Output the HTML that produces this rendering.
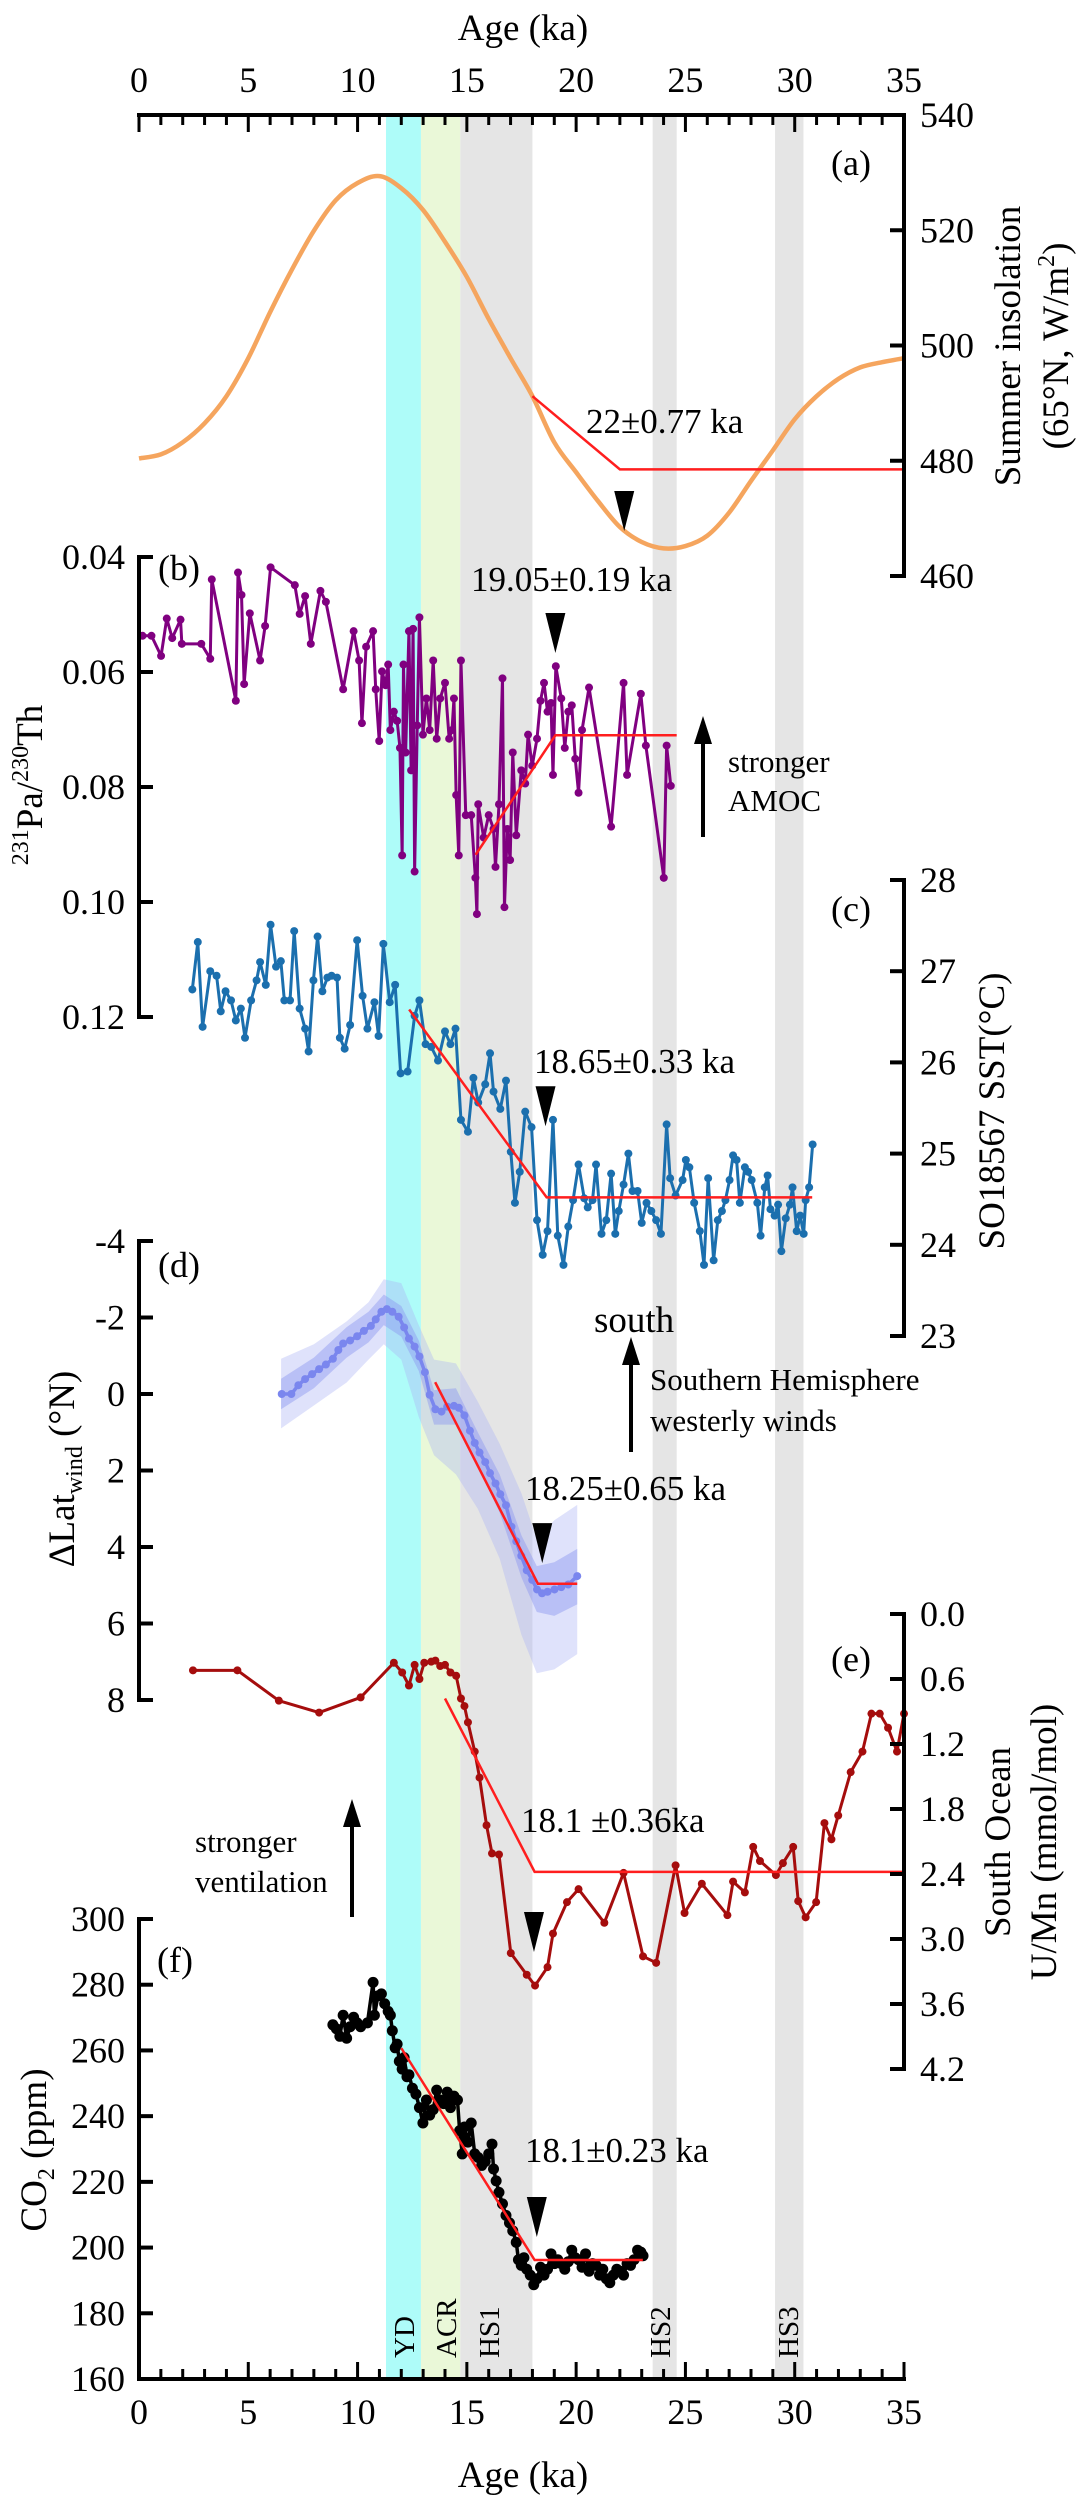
<!DOCTYPE html>
<html><head><meta charset="utf-8"><style>
html,body{margin:0;padding:0;background:#fff}
svg{display:block;font-family:"Liberation Serif",serif}
</style></head><body>
<svg id="chart" xmlns="http://www.w3.org/2000/svg" width="1081" height="2500" viewBox="0 0 1081 2500">
<g id="bands"></g>
<g id="dbands"></g>
<g id="series"></g>
<g id="axes"></g>
<g id="labels" fill="#000">
<text x="523" y="40" font-size="37" text-anchor="middle">Age (ka)</text>
<text x="523" y="2487" font-size="37" text-anchor="middle">Age (ka)</text>
<text x="851" y="175" font-size="36" text-anchor="middle">(a)</text>
<text x="179" y="580" font-size="36" text-anchor="middle">(b)</text>
<text x="851" y="921" font-size="36" text-anchor="middle">(c)</text>
<text x="179" y="1277" font-size="36" text-anchor="middle">(d)</text>
<text x="851" y="1671" font-size="36" text-anchor="middle">(e)</text>
<text x="175" y="1972" font-size="36" text-anchor="middle">(f)</text>
<text font-size="37" text-anchor="middle" transform="translate(1020,346) rotate(-90)">Summer insolation</text>
<text font-size="37" text-anchor="middle" transform="translate(1068,346) rotate(-90)">(65°N, W/m<tspan font-size="24" dy="-14">2</tspan><tspan dy="14">)</tspan></text>
<text font-size="37" text-anchor="middle" transform="translate(42,785) rotate(-90)"><tspan font-size="24" dy="-14">231</tspan><tspan dy="14">Pa/</tspan><tspan font-size="24" dy="-14">230</tspan><tspan dy="14">Th</tspan></text>
<text font-size="37" text-anchor="middle" transform="translate(1004,1111) rotate(-90)">SO18567 SST(°C)</text>
<text font-size="37" text-anchor="middle" transform="translate(74,1469) rotate(-90)">ΔLat<tspan font-size="24" dy="8">wind</tspan><tspan dy="-8"> (°N)</tspan></text>
<text font-size="37" text-anchor="middle" transform="translate(1010,1842) rotate(-90)">South Ocean</text>
<text font-size="37" text-anchor="middle" transform="translate(1056,1842) rotate(-90)">U/Mn (mmol/mol)</text>
<text font-size="37" text-anchor="middle" transform="translate(46,2150) rotate(-90)">CO<tspan font-size="24" dy="8">2</tspan><tspan dy="-8"> (ppm)</tspan></text>
<text x="586" y="433" font-size="35">22±0.77 ka</text>
<text x="471" y="591" font-size="35">19.05±0.19 ka</text>
<text x="534" y="1073" font-size="35">18.65±0.33 ka</text>
<text x="525" y="1500" font-size="35">18.25±0.65 ka</text>
<text x="521" y="1832" font-size="35">18.1 ±0.36ka</text>
<text x="525" y="2162" font-size="35">18.1±0.23 ka</text>
<text x="728" y="772" font-size="31">stronger</text>
<text x="728" y="811" font-size="31">AMOC</text>
<text x="594" y="1332" font-size="37">south</text>
<text x="650" y="1390" font-size="31">Southern Hemisphere</text>
<text x="650" y="1431" font-size="31">westerly winds</text>
<text x="195" y="1852" font-size="31">stronger</text>
<text x="195" y="1892" font-size="31">ventilation</text>
<text font-size="29" transform="translate(414,2358) rotate(-90)">YD</text>
<text font-size="29" transform="translate(456,2358) rotate(-90)">ACR</text>
<text font-size="29" transform="translate(499,2358) rotate(-90)">HS1</text>
<text font-size="29" transform="translate(670,2358) rotate(-90)">HS2</text>
<text font-size="29" transform="translate(798,2358) rotate(-90)">HS3</text>
</g>
<g id="arrows">
<line x1="703" y1="837" x2="703" y2="740" stroke="#000" stroke-width="4"/>
<polygon points="703,716 694,744 712,744" fill="#000"/>
<line x1="631" y1="1452" x2="631" y2="1360" stroke="#000" stroke-width="4"/>
<polygon points="631,1337 622,1365 640,1365" fill="#000"/>
<line x1="352" y1="1917" x2="352" y2="1822" stroke="#000" stroke-width="4"/>
<polygon points="352,1799 343,1827 361,1827" fill="#000"/>
</g>
</svg>
<script>
// ---------- data ----------
const bandStarts = [11.3, 12.9, 14.7, 23.5, 29.1];
const bandEnds   = [12.9, 14.7, 18.0, 24.6, 30.4];
const bandNames  = ['yd', 'acr', 'hs1', 'hs2', 'hs3'];
const bandColors = ['#aefcf9', '#eaf8d8', '#e5e5e5', '#e5e5e5', '#e5e5e5'];

const xTicks = [0, 5, 10, 15, 20, 25, 30, 35];

const insAges = [0,1,2,3,4,5,6,7,8,9,10,11,12,13,14,15,16,17,18,19,20,21,22,23,24,25,26,27,28,29,30,31,32,33,34,35];
const insVals = [480.4,481.1,483.2,486.5,491.2,497.8,505.8,513.2,519.9,525.2,528.2,529.4,527.3,523.5,518,511.9,504.6,497.8,491.2,483.2,478,473,468.5,465.9,464.8,465.2,467,471,476.5,481.8,487.2,491.2,494.2,496.2,497.1,497.8];
const insTicks = [540, 520, 500, 480, 460];

const paAges = [0.16,0.57,1.01,1.27,1.52,1.90,1.96,2.85,3.26,3.33,4.43,4.53,4.69,4.81,5.07,5.54,5.77,6.02,7.13,7.35,7.60,7.86,8.30,8.55,9.34,9.82,10.07,10.20,10.39,10.71,10.83,10.99,11.12,11.28,11.40,11.50,11.66,11.81,11.94,12.04,12.10,12.20,12.35,12.45,12.54,12.61,12.73,12.83,12.99,13.15,13.30,13.46,13.62,13.78,14.00,14.19,14.32,14.41,14.51,14.63,14.73,14.95,15.20,15.39,15.46,15.52,15.77,16.00,16.22,16.31,16.47,16.63,16.72,16.85,16.98,17.10,17.26,17.49,17.67,17.80,17.99,18.21,18.37,18.53,18.69,18.85,18.94,19.07,19.32,19.48,19.64,19.80,19.96,20.11,20.27,20.59,21.60,22.17,22.33,22.96,23.19,24.01,24.14,24.33];
const paVals = [0.0537,0.0537,0.0572,0.0507,0.0541,0.0509,0.0551,0.0551,0.0577,0.0439,0.0650,0.0427,0.0466,0.0621,0.0498,0.0580,0.0520,0.0418,0.0449,0.0499,0.0468,0.0551,0.0459,0.0478,0.0630,0.0529,0.0580,0.0689,0.0556,0.0529,0.0630,0.0720,0.0599,0.0623,0.0587,0.0701,0.0669,0.0685,0.0732,0.0919,0.0587,0.0740,0.0529,0.0771,0.0525,0.0947,0.0693,0.0505,0.0709,0.0646,0.0701,0.0580,0.0716,0.0646,0.0619,0.0716,0.0701,0.0646,0.0814,0.0919,0.0580,0.0849,0.0849,0.0958,0.1021,0.0830,0.0888,0.0849,0.0873,0.0939,0.0830,0.0611,0.1009,0.0873,0.0927,0.0740,0.0884,0.0771,0.0794,0.0709,0.0763,0.0716,0.0650,0.0619,0.0669,0.0654,0.0779,0.0590,0.0646,0.0732,0.0669,0.0658,0.0751,0.0810,0.0701,0.0627,0.0869,0.0619,0.0779,0.0638,0.0728,0.0958,0.0728,0.0798];
const paTicks = [0.04, 0.06, 0.08, 0.10, 0.12];
const paTickLabels = ['0.04', '0.06', '0.08', '0.10', '0.12'];

const sstAges = [2.44,2.69,2.91,3.26,3.55,3.74,3.96,4.21,4.43,4.66,4.85,5.13,5.38,5.54,5.80,6.02,6.27,6.49,6.65,6.91,7.10,7.35,7.60,7.76,7.98,8.17,8.39,8.62,8.81,9.06,9.19,9.41,9.66,9.98,10.23,10.45,10.77,10.96,11.18,11.47,11.72,11.97,12.29,12.61,12.83,13.11,13.37,13.68,14.00,14.25,14.48,14.73,15.05,15.30,15.52,15.84,16.06,16.22,16.53,16.79,17.01,17.20,17.42,17.67,17.96,18.21,18.47,18.69,18.94,19.16,19.42,19.64,19.86,20.11,20.37,20.53,20.75,20.91,21.16,21.38,21.60,21.79,21.95,22.17,22.39,22.58,22.81,23.00,23.22,23.44,23.66,23.88,24.14,24.30,24.55,24.87,25.02,25.18,25.40,25.66,25.85,26.04,26.29,26.48,26.67,26.83,27.02,27.18,27.34,27.49,27.72,27.87,28.03,28.29,28.44,28.63,28.76,28.89,29.08,29.24,29.39,29.59,29.78,29.90,30.09,30.25,30.41,30.50,30.66,30.82];
const sstVals = [26.80,27.32,26.39,27.00,26.95,26.56,26.78,26.68,26.46,26.59,26.27,26.68,26.90,27.10,26.85,27.51,27.05,27.11,26.68,26.68,27.44,26.59,26.37,26.12,26.90,27.38,26.78,26.93,26.95,26.93,26.27,26.15,26.41,27.34,26.73,26.37,26.66,26.29,27.30,26.66,26.85,25.88,25.90,26.51,26.68,26.20,26.17,26.02,26.34,26.20,26.37,25.37,25.24,25.83,25.56,25.76,26.10,25.68,25.49,25.80,25.02,24.46,24.80,25.46,25.29,24.27,23.89,24.15,25.37,24.10,23.78,24.20,24.49,24.88,24.51,24.41,24.49,24.88,24.12,24.27,24.78,24.12,24.37,24.66,25.00,24.59,24.59,24.24,24.46,24.37,24.27,24.12,25.32,24.73,24.54,24.71,24.93,24.85,24.46,24.15,23.78,24.73,23.83,24.27,24.37,24.49,24.71,24.98,24.93,24.46,24.85,24.80,24.71,24.46,24.10,24.63,24.76,24.39,24.32,24.44,23.93,24.29,24.44,24.63,24.15,24.32,24.12,24.49,24.63,25.10];
const sstTicks = [28, 27, 26, 25, 24, 23];

const windAges = [6.53,6.97,7.29,7.60,7.92,8.24,8.55,8.87,9.12,9.34,9.66,9.98,10.29,10.61,10.83,11.09,11.34,11.59,11.88,12.13,12.35,12.61,12.83,13.08,13.30,13.56,13.84,14.10,14.41,14.63,14.89,15.14,15.36,15.58,15.84,16.06,16.31,16.53,16.79,17.04,17.26,17.49,17.74,17.99,18.21,18.44,18.69,19.01,19.32,19.64,20.05];
const windVals = [0.0,0.0,-0.23,-0.39,-0.52,-0.65,-0.77,-0.92,-1.15,-1.32,-1.40,-1.51,-1.65,-1.78,-1.95,-2.15,-2.22,-2.15,-2.02,-1.74,-1.45,-1.24,-0.98,-0.57,0.02,0.40,0.46,0.33,0.31,0.36,0.56,0.96,1.28,1.53,1.78,2.07,2.34,2.62,2.91,3.47,3.85,4.23,4.61,4.86,5.11,5.21,5.17,5.11,5.05,4.98,4.76];
const windBandAges = [6.5,8,9.5,10.5,11.2,12,12.8,13.5,14.5,15.5,16.5,17.5,18.2,19,20.05];
const windOuterUpper = [-0.92,-1.3,-1.9,-2.4,-3.0,-2.9,-1.8,-0.9,-0.8,0.2,1.3,2.6,3.8,3.3,2.9];
const windOuterLower = [0.9,0.3,-0.3,-0.9,-1.3,-0.9,0.6,1.6,2.1,3.0,4.3,6.3,7.3,7.2,6.8];
const windInnerUpper = [-0.4,-0.95,-1.75,-2.15,-2.6,-2.3,-1.4,-0.1,-0.15,1.0,2.1,3.7,4.5,4.4,4.05];
const windInnerLower = [0.4,-0.15,-0.95,-1.35,-1.8,-1.5,-0.6,0.8,0.8,1.9,3.1,4.8,5.7,5.8,5.5];
const windTicks = [-4, -2, 0, 2, 4, 6, 8];

const umnAges = [2.47,4.50,6.40,8.24,10.14,11.66,12.04,12.35,12.61,12.83,13.05,13.37,13.56,13.78,14.00,14.25,14.51,14.73,14.89,15.05,15.36,15.58,15.90,16.15,16.47,17.01,17.74,18.12,18.69,18.94,19.58,20.11,21.29,22.17,23.06,23.66,24.55,24.96,25.75,26.92,27.18,27.72,28.10,28.41,29.14,29.46,29.93,30.16,30.50,30.98,31.36,31.68,31.99,32.56,33.10,33.51,33.89,34.27,34.68,35.00];
const umnVals = [0.52,0.52,0.80,0.91,0.77,0.45,0.54,0.66,0.47,0.60,0.45,0.44,0.43,0.48,0.47,0.54,0.57,0.78,0.85,1.00,1.27,1.51,1.95,2.21,2.22,3.13,3.33,3.43,3.26,2.95,2.66,2.54,2.85,2.39,3.16,3.22,2.32,2.76,2.49,2.78,2.47,2.57,2.15,2.28,2.41,2.30,2.15,2.65,2.80,2.66,1.93,2.08,1.86,1.46,1.27,0.92,0.92,1.05,1.27,0.92];
const umnTicks = [0.0, 0.6, 1.2, 1.8, 2.4, 3.0, 3.6, 4.2];
const umnTickLabels = ['0.0','0.6','1.2','1.8','2.4','3.0','3.6','4.2'];

const co2Ages = [8.87,9.03,9.19,9.34,9.50,9.66,9.82,9.98,10.14,10.45,10.71,10.77,10.93,11.09,11.24,11.40,11.50,11.59,11.72,11.81,11.91,12.04,12.13,12.26,12.35,12.51,12.67,12.83,12.99,13.15,13.30,13.46,13.62,13.78,13.94,14.10,14.25,14.41,14.57,14.67,14.79,14.89,15.05,15.20,15.36,15.52,15.68,15.84,16.00,16.15,16.22,16.34,16.47,16.63,16.79,16.95,17.10,17.26,17.36,17.49,17.61,17.74,17.90,18.06,18.21,18.37,18.53,18.69,18.85,19.01,19.16,19.32,19.48,19.64,19.80,19.96,20.11,20.27,20.43,20.59,20.75,20.91,21.07,21.22,21.38,21.54,21.70,21.86,22.02,22.17,22.33,22.49,22.65,22.81,22.96,23.06];
const co2Vals = [267.8,266.6,264.3,270.7,263.7,267.2,270.1,268.4,267.2,268.4,280.7,270.7,276.6,277.2,274.2,271.9,270.7,266.0,260.8,261.9,256.7,254.3,257.8,252.0,252.6,248.5,246.7,242.6,237.9,244.9,240.3,242.0,247.9,244.9,243.8,247.3,242.6,246.1,244.9,235.6,228.5,236.7,232.1,237.9,228.5,227.4,225.0,226.2,228.5,231.5,223.9,220.3,216.8,213.3,209.8,207.5,205.1,201.6,196.3,194.6,196.9,193.4,191.6,188.7,190.5,194.0,191.6,193.4,198.1,195.1,196.3,195.1,193.4,195.7,199.2,196.9,196.3,194.0,198.1,192.8,195.1,194.6,191.6,193.4,190.5,189.3,191.6,193.4,192.8,191.6,195.1,194.6,196.3,199.2,198.6,197.5];
const co2Ticks = [300, 280, 260, 240, 220, 200, 180, 160];

const fitAAges = [18.0, 22.0, 35.0];   const fitAVals = [491.2, 478.5, 478.5];
const fitBAges = [15.4, 19.05, 24.6];  const fitBVals = [0.0918, 0.0710, 0.0710];
const fitCAges = [12.36, 18.65, 30.8]; const fitCVals = [26.58, 24.52, 24.52];
const fitDAges = [13.55, 18.25, 20.05];const fitDVals = [-0.31, 4.96, 4.96];
const fitEAges = [14.0, 18.1, 35.0];   const fitEVals = [0.78, 2.38, 2.38];
const fitFAges = [12.0, 18.1, 23.05];  const fitFVals = [260.7, 196.2, 196.2];

const markerAges = [22.2, 19.05, 18.6, 18.45, 18.07, 18.2];
const markerTipVals = [467.8, 0.0567, 25.3, 4.42, 3.12, 203.2];

// ---------- scales ----------
const X  = a => 139 + a * 765 / 35;
const Ya = v => 115 + (540 - v) * 461 / 80;
const Yb = v => 557 + (v - 0.04) * 460 / 0.08;
const Yc = v => 880 + (28 - v) * 456 / 5;
const Yd = v => 1241 + (v + 4) * 459 / 12;
const Ye = v => 1614 + v * 455 / 4.2;
const Yf = v => 2379 - (v - 160) * 460 / 140;

const NS = 'http://www.w3.org/2000/svg';
function mk(tag, parent) { const e = document.createElementNS(NS, tag); parent.appendChild(e); return e; }
const gB = document.getElementById('bands'), gD = document.getElementById('dbands'),
      gS = document.getElementById('series'), gA = document.getElementById('axes');

// bands
for (let i = 0; i < bandStarts.length; i++) {
  const r = mk('rect', gB);
  
  
  r.setAttribute('x', X(bandStarts[i])); r.setAttribute('width', X(bandEnds[i]) - X(bandStarts[i]));
  r.setAttribute('y', 117); r.setAttribute('height', 2379 - 117);
  r.setAttribute('fill', bandColors[i]);
}

// wind confidence bands
function bandPath(up, lo, fill, name) {
  let d = windBandAges.map((a, i) => (i ? 'L' : 'M') + X(a) + ',' + Yd(up[i])).join('');
  for (let i = windBandAges.length - 1; i >= 0; i--) d += 'L' + X(windBandAges[i]) + ',' + Yd(lo[i]);
  const p = mk('path', gD);
  
  
  p.setAttribute('d', d + 'Z'); p.setAttribute('fill', fill);
}
bandPath(windOuterUpper, windOuterLower, 'rgba(170,178,245,0.38)', 'wind-outer-band');
bandPath(windInnerUpper, windInnerLower, 'rgba(140,150,240,0.45)', 'wind-inner-band');

// smooth insolation curve (Catmull-Rom)
(function () {
  const pts = insAges.map((a, i) => [X(a), Ya(insVals[i])]);
  let d = 'M' + pts[0][0] + ',' + pts[0][1];
  for (let i = 0; i < pts.length - 1; i++) {
    const p0 = pts[Math.max(0, i - 1)], p1 = pts[i], p2 = pts[i + 1], p3 = pts[Math.min(pts.length - 1, i + 2)];
    const c1 = [p1[0] + (p2[0] - p0[0]) / 6, p1[1] + (p2[1] - p0[1]) / 6];
    const c2 = [p2[0] - (p3[0] - p1[0]) / 6, p2[1] - (p3[1] - p1[1]) / 6];
    d += `C${c1[0]},${c1[1]} ${c2[0]},${c2[1]} ${p2[0]},${p2[1]}`;
  }
  const p = mk('path', gS);
  
  
  p.setAttribute('d', d); p.setAttribute('fill', 'none');
  p.setAttribute('stroke', '#f5a55e'); p.setAttribute('stroke-width', 4.5);
})();

function series(ages, vals, Y, color, r, name, lw) {
  const g = mk('g', gS);
  
  
  const p = mk('polyline', g);
  
  
  p.setAttribute('points', ages.map((a, i) => X(a) + ',' + Y(vals[i])).join(' '));
  p.setAttribute('fill', 'none'); p.setAttribute('stroke', color); p.setAttribute('stroke-width', lw);
  p.setAttribute('stroke-linejoin', 'round');
  ages.forEach((a, i) => {
    const c = mk('circle', g);
    
    
    c.setAttribute('cx', X(a)); c.setAttribute('cy', Y(vals[i])); c.setAttribute('r', r); c.setAttribute('fill', color);
  });
}
series(paAges, paVals, Yb, '#800080', 4, 'pa-th-series', 3);
series(sstAges, sstVals, Yc, '#1b6fae', 4, 'sst-series', 3);
series(windAges, windVals, Yd, '#7a86ee', 4, 'wind-series', 3.5);
series(umnAges, umnVals, Ye, '#a50d0d', 4, 'umn-series', 3);
series(co2Ages, co2Vals, Yf, '#000000', 5.5, 'co2-series', 3.5);

function fit(ages, vals, Y, name) {
  const p = mk('polyline', gS);
  
  
  p.setAttribute('points', ages.map((a, i) => X(a) + ',' + Y(vals[i])).join(' '));
  p.setAttribute('fill', 'none'); p.setAttribute('stroke', '#ff1e1e'); p.setAttribute('stroke-width', 2.5);
}
fit(fitAAges, fitAVals, Ya, 'fit-line-a');
fit(fitBAges, fitBVals, Yb, 'fit-line-b');
fit(fitCAges, fitCVals, Yc, 'fit-line-c');
fit(fitDAges, fitDVals, Yd, 'fit-line-d');
fit(fitEAges, fitEVals, Ye, 'fit-line-e');
fit(fitFAges, fitFVals, Yf, 'fit-line-f');

const markerY = [Ya, Yb, Yc, Yd, Ye, Yf];
markerAges.forEach((a, i) => {
  const x = X(a), y = markerY[i](markerTipVals[i]);
  const t = mk('polygon', gS);
  
  
  t.setAttribute('points', `${x},${y} ${x - 10},${y - 40} ${x + 10},${y - 40}`);
  t.setAttribute('fill', '#000');
});

// ---------- axes ----------
function line(x1, y1, x2, y2, w, name) {
  const l = mk('line', gA);
  
  
  l.setAttribute('x1', x1); l.setAttribute('y1', y1); l.setAttribute('x2', x2); l.setAttribute('y2', y2);
  l.setAttribute('stroke', '#000'); l.setAttribute('stroke-width', w);
}
function label(x, y, s, anchor, name) {
  const t = mk('text', gA);
  
  
  t.setAttribute('x', x); t.setAttribute('y', y); t.setAttribute('text-anchor', anchor);
  t.setAttribute('font-size', 36); t.textContent = s;
}
line(137, 115, 906, 115, 4, 'top-x-axis-line');
line(137, 2379, 906, 2379, 4, 'bottom-x-axis-line');
for (let a = 0; a <= 35; a++) {
  const len = a % 5 === 0 ? 17 : 10;
  line(X(a), 115, X(a), 115 + len, 3, 'top-x-tick');
  line(X(a), 2379, X(a), 2379 - len, 3, 'bottom-x-tick');
}
xTicks.forEach(a => {
  label(X(a), 92, String(a), 'middle', 'top-x-tick-label');
  label(X(a), 2424, String(a), 'middle', 'bottom-x-tick-label');
});
function yAxis(ticks, labels, Y, side, name) {
  const x = side === 'right' ? 904 : 139;
  const y0 = Y(ticks[0]), y1 = Y(ticks[ticks.length - 1]);
  line(x, Math.min(y0, y1) - 2, x, Math.max(y0, y1) + 2, 4, name + '-line');
  ticks.forEach((v, i) => {
    const y = Y(v);
    line(x, y, side === 'right' ? x - 14 : x + 14, y, 4, name + '-tick');
    label(side === 'right' ? x + 16 : x - 14, y + 12, labels[i], side === 'right' ? 'start' : 'end', name + '-tick-label');
  });
}
yAxis(insTicks, insTicks.map(String), Ya, 'right', 'insolation-axis');
yAxis(paTicks, paTickLabels, Yb, 'left', 'pa-th-axis');
yAxis(sstTicks, sstTicks.map(String), Yc, 'right', 'sst-axis');
yAxis(windTicks, windTicks.map(String), Yd, 'left', 'wind-axis');
yAxis(umnTicks, umnTickLabels, Ye, 'right', 'umn-axis');
yAxis(co2Ticks, co2Ticks.map(String), Yf, 'left', 'co2-axis');
</script>
</body></html>
